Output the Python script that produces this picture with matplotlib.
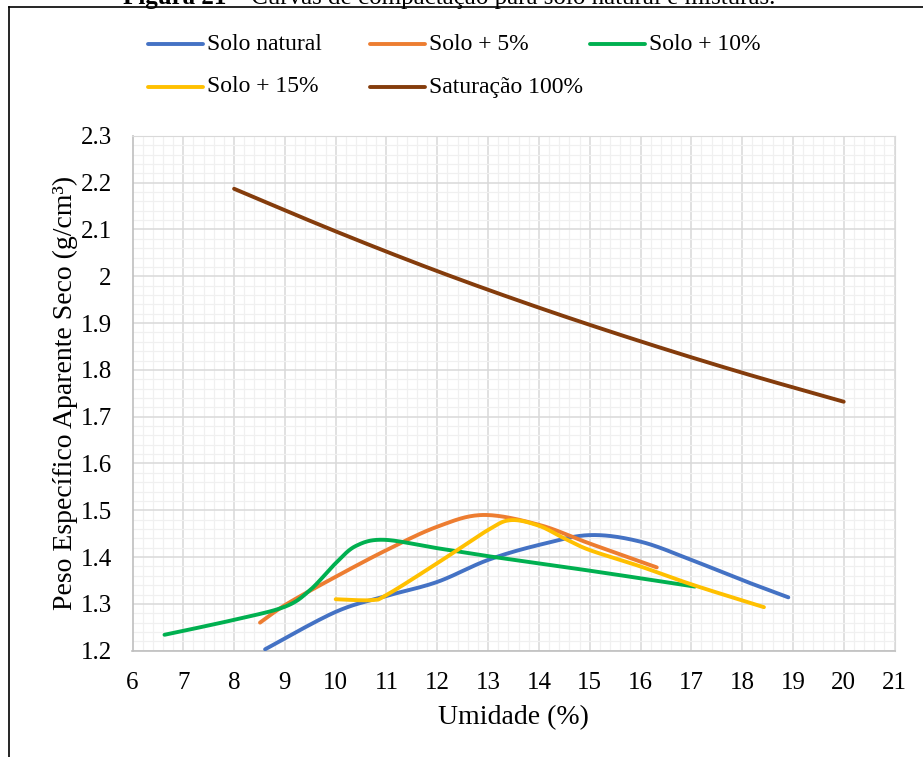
import numpy as np
import matplotlib.pyplot as plt
from matplotlib.lines import Line2D
from matplotlib.ticker import MultipleLocator

plt.rcParams['font.family'] = ['Liberation Serif', 'DejaVu Serif']

# umidade (%) e peso especifico aparente seco (g/cm3) de cada ensaio
w_natural = [8.61, 10.0, 11.0, 12.0, 13.0, 14.0, 15.0, 16.0, 17.0, 18.0, 18.91]
g_natural = [1.203, 1.283, 1.317, 1.347, 1.394, 1.426, 1.447, 1.433, 1.394, 1.351, 1.314]

w_5 = [8.51, 9.04, 10.0, 11.0, 12.0, 12.9, 14.0, 15.0, 16.32]
g_5 = [1.260, 1.300, 1.358, 1.415, 1.465, 1.490, 1.469, 1.429, 1.378]

w_10 = [6.63, 8.0, 9.0, 9.5, 10.0, 10.4, 10.95, 12.0, 13.0, 15.0, 17.07]
g_10 = [1.234, 1.266, 1.294, 1.330, 1.387, 1.424, 1.437, 1.419, 1.402, 1.371, 1.337]

w_15 = [10.0, 10.7, 11.0, 12.0, 13.0, 13.45, 14.0, 14.5, 15.0, 16.0, 17.05, 18.43]
g_15 = [1.310, 1.308, 1.319, 1.387, 1.458, 1.479, 1.467, 1.440, 1.415, 1.380, 1.340, 1.293]

w_sat = [8, 10, 12, 14, 16, 18, 20]
g_sat = [2.187, 2.096, 2.011, 1.933, 1.861, 1.794, 1.732]

series_labels = ['Solo natural', 'Solo + 5%', 'Solo + 10%', 'Solo + 15%', 'Saturação 100%']
series_colors = ['#4472C4', '#ED7D31', '#00B050', '#FFC000', '#843C0C']

x_ticks = list(range(6, 22))
y_ticks = [1.2, 1.3, 1.4, 1.5, 1.6, 1.7, 1.8, 1.9, 2.0, 2.1, 2.2, 2.3]
y_tick_labels = ['1.2', '1.3', '1.4', '1.5', '1.6', '1.7', '1.8', '1.9', '2', '2.1', '2.2', '2.3']


def smooth(x, y, n=30):
    # curva suavizada tipo Catmull-Rom (linha suave do Excel)
    p = np.column_stack([x, y]).astype(float)
    p = np.vstack([p[0], p, p[-1]])
    out = []
    t = np.linspace(0, 1, n)[:, None]
    for i in range(1, len(p) - 2):
        p0, p1, p2, p3 = p[i - 1], p[i], p[i + 1], p[i + 2]
        b1 = p1 + (p2 - p0) / 6
        b2 = p2 - (p3 - p1) / 6
        seg = ((1 - t) ** 3) * p1 + 3 * ((1 - t) ** 2) * t * b1 + 3 * (1 - t) * t ** 2 * b2 + t ** 3 * p2
        out.append(seg if i == 1 else seg[1:])
    out = np.vstack(out)
    return out[:, 0], out[:, 1]


W, H = 923, 757
fig = plt.figure(figsize=(W / 100, H / 100), dpi=100)
ax = fig.add_axes([132.5 / W, 1 - 650.7 / H, 762 / W, 514.8 / H])

data = [(w_natural, g_natural), (w_5, g_5), (w_10, g_10), (w_15, g_15), (w_sat, g_sat)]
for (wx, gy), lab, col in zip(data, series_labels, series_colors):
    xs, ys = smooth(wx, gy)
    ax.plot(xs, ys, color=col, lw=2.8, solid_capstyle='round', label=lab, zorder=3)

ax.set_xlim(6, 21)
ax.set_ylim(1.2, 2.3)
ax.set_xticks(x_ticks)
ax.set_yticks(y_ticks)
ax.set_yticklabels(y_tick_labels)
ax.xaxis.set_minor_locator(MultipleLocator(0.2))
ax.yaxis.set_minor_locator(MultipleLocator(0.02))
ax.grid(which='minor', color='#f0f0f0', lw=0.9)
ax.grid(which='major', color='#d9d9d9', lw=1.1)
ax.set_axisbelow(True)
ax.tick_params(which='both', length=0)
ax.tick_params(axis='x', labelsize=18, pad=15)
ax.tick_params(axis='y', labelsize=18, pad=15)
for s in ax.spines.values():
    s.set_color('#d9d9d9')
ax.spines['left'].set_color('#bfbfbf')
ax.spines['bottom'].set_color('#bfbfbf')
ax.spines['left'].set_linewidth(1.2)
ax.spines['bottom'].set_linewidth(1.2)

fig.text(513.5 / W, 1 - 718 / H, 'Umidade (%)', ha='center', va='center', fontsize=20)
fig.text(65 / W, 1 - 393.3 / H, 'Peso Específico Aparente Seco (g/cm³)',
         rotation=90, ha='center', va='center', fontsize=20)

# legenda em duas linhas, tres colunas
col_x = [148, 370, 590]
row_y = [44, 87]
for i, (lab, col) in enumerate(zip(series_labels, series_colors)):
    x0 = col_x[i % 3]
    y0 = 1 - row_y[i // 3] / H
    fig.add_artist(Line2D([x0 / W, (x0 + 55) / W], [y0, y0], color=col, lw=2.8,
                          solid_capstyle='round'))
    fig.text((x0 + 59) / W, y0, lab, ha='left', va='center', fontsize=17)

# titulo da figura (cortado no topo) e moldura
fig.text(226 / W, 1 - 4 / H, 'Figura 21', ha='right', va='baseline', fontsize=18, fontweight='bold')
fig.text(226 / W, 1 - 4 / H, ' – Curvas de compactação para solo natural e misturas.',
         ha='left', va='baseline', fontsize=18)
fig.add_artist(Line2D([9 / W, 1.01], [1 - 7 / H, 1 - 7 / H], color='black', lw=1.2))
fig.add_artist(Line2D([9 / W, 9 / W], [1 - 7 / H, -0.01], color='black', lw=1.2))

plt.savefig('out.png', dpi=100)
